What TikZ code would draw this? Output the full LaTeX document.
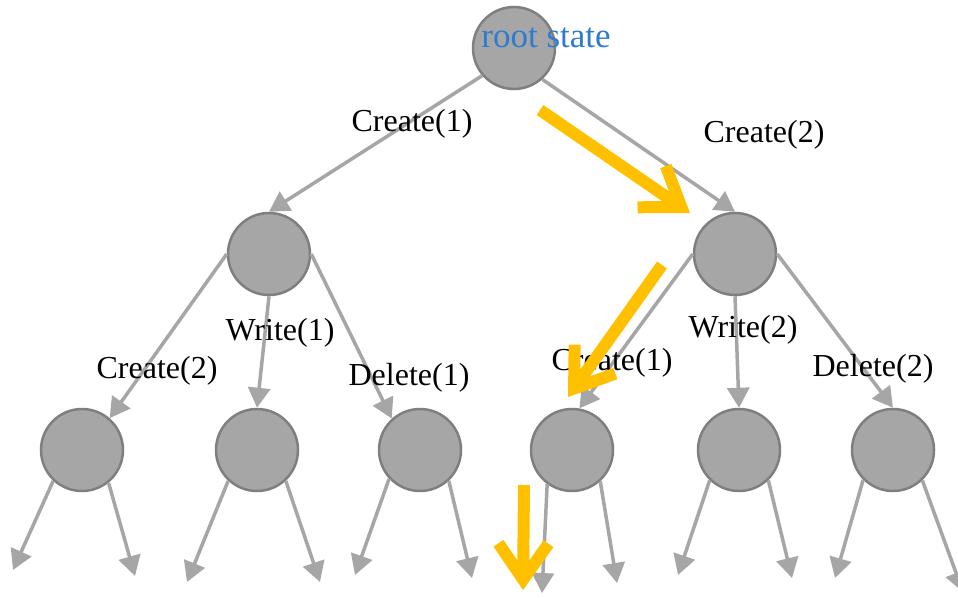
\documentclass[tikz,border=0pt]{standalone}
\usepackage{fontspec}
\setmainfont{Liberation Serif}
\usetikzlibrary{arrows.meta}
\definecolor{nodefill}{HTML}{A6A6A6}
\definecolor{nodeline}{HTML}{7F7F7F}
\definecolor{edgegrey}{HTML}{A6A6A6}
\definecolor{pathorange}{HTML}{FFC000}
\definecolor{rootblue}{HTML}{2E7BCF}
\begin{document}
\begin{tikzpicture}[x=1pt,y=-1pt,
  state/.style={circle, draw=nodeline, fill=nodefill, line width=2.5pt, minimum size=82pt, inner sep=0pt},
  edge/.style={draw=edgegrey, line width=3.5pt, -{Triangle[length=20pt,width=22pt]}},
  lbl/.style={font=\fontsize{32}{36}\selectfont, inner sep=0pt, text=black},
  hlarrow/.style={draw=pathorange, line width=12pt, -{Straight Barb[length=36pt,width=50pt]}}]
\useasboundingbox (0,0) rectangle (958,597);

% states
\node[state] (r) at (514,48) {};
\node[state] (a) at (269,254) {};
\node[state] (b) at (735,254) {};
\node[state] (a1) at (82,450) {};
\node[state] (a2) at (257,450) {};
\node[state] (a3) at (420,450) {};
\node[state] (b1) at (572,450) {};
\node[state] (b2) at (739,450) {};
\node[state] (b3) at (893,450) {};

% free ends
\coordinate (a1l) at (13,570);  \coordinate (a1r) at (135,576);
\coordinate (a2l) at (187,582); \coordinate (a2r) at (320,582);
\coordinate (a3l) at (355,575); \coordinate (a3r) at (472,578);
\coordinate (b1l) at (542,593); \coordinate (b1r) at (617,583);
\coordinate (b2l) at (678,575); \coordinate (b2r) at (792,578);
\coordinate (b3l) at (835,578); \coordinate (b3r) at (963,592);

% grey edges
\draw[edge] (r.221) -- (a.north);
\draw[edge] (r.312) -- (b.north);
\draw[edge] (a.west) -- (a1.49);
\draw[edge] (a.south) -- (a2.north);
\draw[edge] (a.east) -- (a3.132);
\draw[edge] (b.west) -- (b1.80);
\draw[edge] (b.south) -- (b2.north);
\draw[edge] (b.east) -- (b3.north);
\draw[edge] (a1.227) -- (a1l);
\draw[edge] (a1.309) -- (a1r);
\draw[edge] (a2.227) -- (a2l);
\draw[edge] (a2.313) -- (a2r);
\draw[edge] (a3.223) -- (a3l);
\draw[edge] (a3.313) -- (a3r);
\draw[edge] (b1.234) -- (b1l);
\draw[edge] (b1.312) -- (b1r);
\draw[edge] (b2.226) -- (b2l);
\draw[edge] (b2.314) -- (b2r);
\draw[edge] (b3.225) -- (b3l);
\draw[edge] (b3.314) -- (b3r);

% labels
\node[lbl] (l1) at (412,124) {Create(1)};
\node[lbl] (l2) at (764,135) {Create(2)};
\node[lbl] (l3) at (157,371) {Create(2)};
\node[lbl] (l4) at (280,333) {Write(1)};
\node[lbl] (l5) at (409,378) {Delete(1)};
\node[lbl] (l6) at (612,363) {Create(1)};
\node[lbl] (l7) at (743,330) {Write(2)};
\node[lbl] (l8) at (873,369) {Delete(2)};
\node[lbl, text=rootblue, font=\fontsize{35}{40}\selectfont] (rl) at (546,38) {root state};

% highlighted path
\coordinate (o1s) at (540,110); \coordinate (o1e) at (690,213);
\coordinate (o2s) at (662,265); \coordinate (o2e) at (568,397);
\coordinate (o3s) at (524,485); \coordinate (o3e) at (523,590);
\draw[hlarrow] (o1s) -- (o1e);
\draw[hlarrow] (o2s) -- (o2e);
\draw[hlarrow] (o3s) -- (o3e);
\end{tikzpicture}
\end{document}
